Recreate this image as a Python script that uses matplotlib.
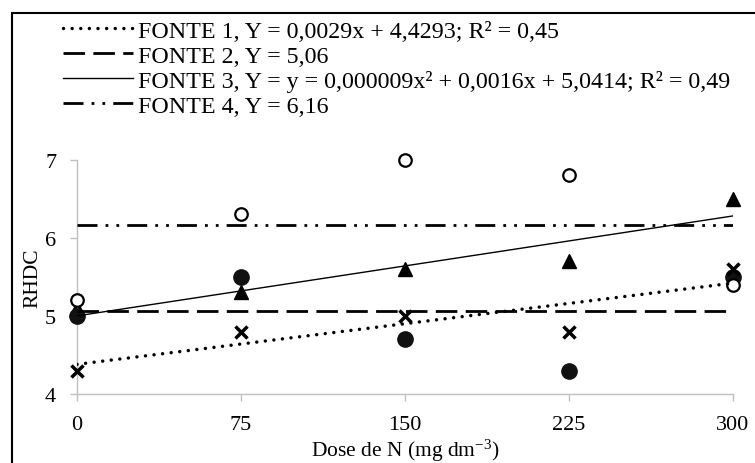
import numpy as np
import matplotlib.pyplot as plt
from matplotlib.patches import Rectangle

plt.rcParams['font.family'] = ['Liberation Serif', 'DejaVu Serif']
plt.rcParams['mathtext.fontset'] = 'custom'
plt.rcParams['mathtext.rm'] = 'Liberation Serif'
plt.rcParams['mathtext.it'] = 'Liberation Serif:italic'
plt.rcParams['lines.scale_dashes'] = False

# doses de N e valores de RHDC por fonte
dose = np.array([0, 75, 150, 225, 300])
fonte1 = np.array([4.3, 4.8, 5.0, 4.8, 5.6])
fonte2 = np.array([5.0, 5.5, 4.7, 4.3, 5.5])
fonte3 = np.array([5.1, 5.3, 5.6, 5.7, 6.5])
fonte4 = np.array([5.2, 6.3, 7.0, 6.8, 5.4])

media_fonte2 = 5.06
media_fonte4 = 6.16

legend_labels = [
    'FONTE 1, Y = 0,0029x + 4,4293; R² = 0,45',
    'FONTE 2, Y = 5,06',
    'FONTE 3, Y = y = 0,000009x² + 0,0016x + 5,0414; R² = 0,49',
    'FONTE 4, Y = 6,16',
]
x_ticks = [0, 75, 150, 225, 300]
y_ticks = [4, 5, 6, 7]

W, H = 755, 464
fig = plt.figure(figsize=(W / 100, H / 100), dpi=100)

# moldura externa
fig.patches.append(Rectangle((12 / W, -0.1), 1.2, 1.1 - 14 / H, transform=fig.transFigure,
                             fill=False, edgecolor='black', linewidth=1.5, zorder=0))

ax = fig.add_axes([77 / W, 1 - 395 / H, 656 / W, 234.3 / H])

# pontos observados
ax.plot(dose, fonte3, linestyle='none', marker='^', markersize=10, color='black',
        zorder=2, clip_on=False)
ax.plot(dose, fonte2, linestyle='none', marker='o', markersize=11, color='#111111',
        zorder=3, clip_on=False)
ax.plot(dose, fonte1, linestyle='none', marker='x', markersize=8.5, markeredgewidth=2.5,
        color='black', zorder=4, clip_on=False)
ax.plot(dose, fonte4, linestyle='none', marker='o', markersize=9, markeredgewidth=1.6,
        markerfacecolor='white', markeredgecolor='black', zorder=5, clip_on=False)

# linhas de tendencia
xf = np.linspace(dose.min(), dose.max(), 100)
c1 = np.polyfit(dose, fonte1, 1)
c3 = np.polyfit(dose, fonte3, 1)
l1, = ax.plot(xf, np.polyval(c1, xf), color='black', linewidth=2.5,
              linestyle=(0, (0.01, 6.2)), dash_capstyle='round', zorder=6)
l2, = ax.plot(xf, np.full_like(xf, media_fonte2), color='black', linewidth=2.0,
              linestyle=(0, (15.5, 6)), zorder=6)
l3, = ax.plot(xf, np.polyval(c3, xf), color='black', linewidth=1.0, zorder=6)
l4, = ax.plot(xf, np.full_like(xf, media_fonte4), color='black', linewidth=2.0,
              linestyle=(0, (14.4, 5.8, 2, 5.8, 2, 5.8)), zorder=6)

ax.set_xlim(0, 300)
ax.set_ylim(4, 7)
ax.set_xticks(x_ticks)
ax.set_yticks(y_ticks)
for s in ['top', 'right']:
    ax.spines[s].set_visible(False)
for s in ['left', 'bottom']:
    ax.spines[s].set_color('#bfbfbf')
    ax.spines[s].set_linewidth(1.0)
ax.tick_params(direction='out', length=5, width=1.0, color='#bfbfbf',
               labelsize=16, labelcolor='black', pad=10)

ax.set_xlabel('Dose de N (mg dm$^{-3}$)', fontsize=15.5, labelpad=2)
ax.set_ylabel('RHDC', fontsize=15.5, labelpad=2)

fig.legend([l1, l2, l3, l4], legend_labels, loc='upper left',
           bbox_to_anchor=(63 / W, 1 - 21 / H), frameon=False, fontsize=17.3,
           handlelength=2.91, handletextpad=0.21, labelspacing=0.13,
           borderpad=0, borderaxespad=0)

fig.savefig('out.png', dpi=100)
